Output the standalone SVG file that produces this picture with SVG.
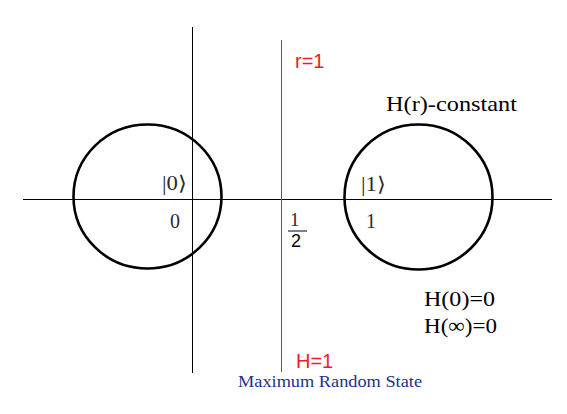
<svg xmlns="http://www.w3.org/2000/svg" width="567" height="414" viewBox="0 0 567 414">
<style>
.ax{stroke:#000;stroke-width:1;fill:none}
.circ{stroke:#000;stroke-width:2.6;fill:none}
.serif{font-family:"Liberation Serif","Times New Roman",serif}
.sans{font-family:"Liberation Sans",Arial,sans-serif}
.blk{fill:#000}
.gry{fill:#2a2a2a}
.red{fill:#ee1c25}
.blu{fill:#23318a}
</style>
<rect width="567" height="414" fill="#fff"/>
<g id="axes">
<line class="ax" x1="23" y1="199.5" x2="552" y2="199.5"/>
<line class="ax" x1="192.5" y1="27" x2="192.5" y2="373"/>
<line x1="281.5" y1="40" x2="281.5" y2="372" stroke="#e3202a" stroke-width="1"/>
</g>
<g id="circle0"><ellipse class="circ" cx="147.5" cy="196.5" rx="74" ry="72"/></g>
<g id="circle1"><ellipse class="circ" cx="418.5" cy="197" rx="74" ry="72.5"/></g>
<g id="labels">
<text class="sans red" x="295" y="68" font-size="20">r=1</text>
<text class="serif blk" x="386" y="111" font-size="22" textLength="131" lengthAdjust="spacingAndGlyphs">H(r)-constant</text>
<text class="serif gry" x="162" y="190" font-size="20" textLength="25" lengthAdjust="spacingAndGlyphs">|0⟩</text>
<text class="serif gry" x="170" y="228" font-size="20">0</text>
<text class="serif gry" x="361" y="191" font-size="20" textLength="25" lengthAdjust="spacingAndGlyphs">|1⟩</text>
<text class="serif gry" x="366" y="228" font-size="20">1</text>
<text class="serif gry" x="290" y="226" font-size="19">1</text>
<line x1="288" y1="231" x2="307" y2="231" stroke="#000" stroke-width="1"/>
<text class="sans blk" x="291" y="247" font-size="18">2</text>
<text class="serif blk" x="424" y="306" font-size="22" textLength="71" lengthAdjust="spacingAndGlyphs">H(0)=0</text>
<text class="serif blk" x="424" y="333" font-size="22" textLength="73" lengthAdjust="spacingAndGlyphs">H(∞)=0</text>
<text class="sans red" x="296" y="368" font-size="20">H=1</text>
<text class="serif blu" x="238" y="387" font-size="16" textLength="184" lengthAdjust="spacingAndGlyphs">Maximum Random State</text>
</g>
</svg>
